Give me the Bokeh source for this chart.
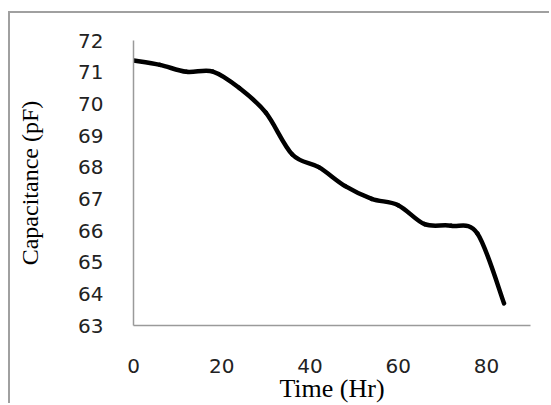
import numpy as np
from bokeh.plotting import figure
from bokeh.models import Range1d, FixedTicker
from bokeh.embed import file_html
from bokeh.resources import INLINE

# Data
time_hr = [0, 6, 12, 18, 24, 30, 36, 42, 48, 54, 60, 66, 72, 78, 84]
capacitance_pf = [71.37, 71.23, 71.01, 71.02, 70.5, 69.72, 68.4, 68.0,
                  67.4, 67.0, 66.8, 66.2, 66.15, 65.9, 63.7]
x_ticks = [0, 20, 40, 60, 80]
y_ticks = [63, 64, 65, 66, 67, 68, 69, 70, 71, 72]

p = figure(width=541, height=392, output_backend="svg", toolbar_location=None,
           tools="", x_range=Range1d(0, 90), y_range=Range1d(63, 72),
           min_border_left=123, min_border_right=21, min_border_top=27,
           min_border_bottom=78)
p.styles = {"margin-left": "8px", "margin-top": "11px",
            "border-left": "2px solid #a0a0a0", "border-top": "2px solid #a0a0a0"}
p.outline_line_color = None
p.xgrid.grid_line_color = None
p.ygrid.grid_line_color = None
p.background_fill_color = "white"
p.border_fill_color = "white"

# Smoothed line (Excel-like): Bezier segments between consecutive data points
x = np.array(time_hr, dtype=float)
y = np.array(capacitance_pf, dtype=float)
n = len(x)
xp = np.concatenate([[x[0]], x, [x[-1]]])
yp = np.concatenate([[y[0]], y, [y[-1]]])
x0, y0 = x[:-1], y[:-1]
x1, y1 = x[1:], y[1:]
cx0 = x0 + (xp[2:n + 1] - xp[0:n - 1]) / 6.0
cy0 = y0 + (yp[2:n + 1] - yp[0:n - 1]) / 6.0
cx1 = x1 - (xp[3:n + 2] - xp[1:n]) / 6.0
cy1 = y1 - (yp[3:n + 2] - yp[1:n]) / 6.0
p.bezier(x0=x0, y0=y0, x1=x1, y1=y1, cx0=cx0, cy0=cy0, cx1=cx1, cy1=cy1,
         line_color="black", line_width=4.5, line_cap="round")

for ax in (p.xaxis, p.yaxis):
    ax.axis_line_color = "#9a9a9a"
    ax.axis_line_width = 1.5
    ax.major_tick_line_color = None
    ax.minor_tick_line_color = None
    ax.major_tick_out = 0
    ax.major_tick_in = 0
    ax.major_label_text_font = "DejaVu Sans"
    ax.major_label_text_font_size = "20px"
    ax.major_label_text_color = "#222222"
    ax.axis_label_text_font = "Liberation Serif"
    ax.axis_label_text_font_style = "normal"
    ax.axis_label_text_color = "black"

p.xaxis.ticker = FixedTicker(ticks=x_ticks)
p.yaxis.ticker = FixedTicker(ticks=y_ticks)
p.xaxis.major_label_standoff = 33
p.yaxis.major_label_standoff = 30
p.xaxis.axis_label = "Time (Hr)"
p.yaxis.axis_label = "Capacitance (pF)"
p.xaxis.axis_label_text_font_size = "26px"
p.yaxis.axis_label_text_font_size = "24px"
p.xaxis.axis_label_standoff = -2
p.yaxis.axis_label_standoff = 32

open("out.html", "w").write(file_html(p, INLINE))
